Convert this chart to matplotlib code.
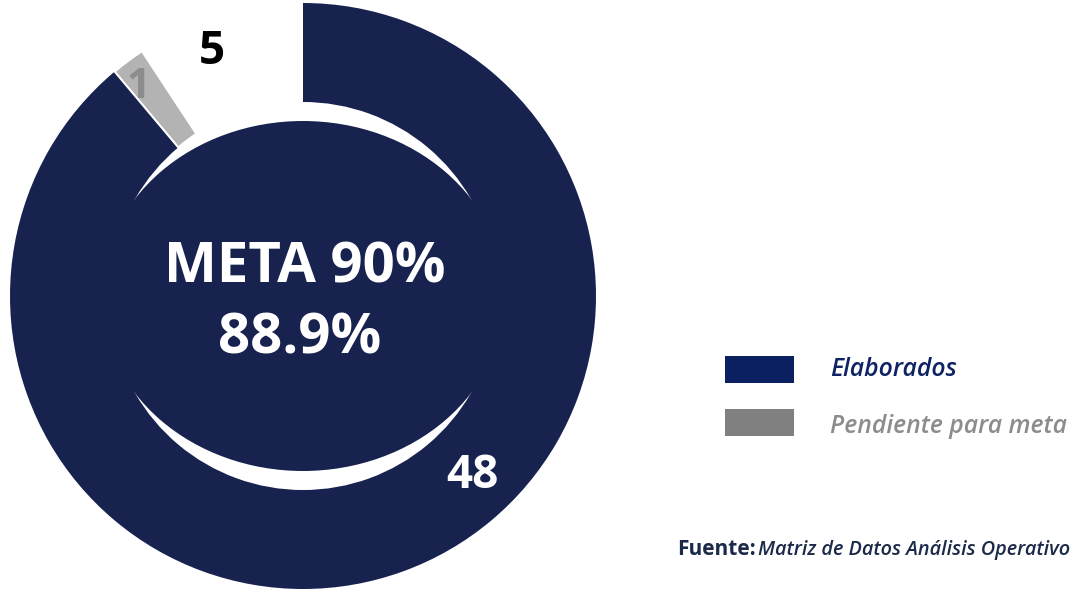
import matplotlib
matplotlib.use("Agg")
import matplotlib.pyplot as plt
from matplotlib.patches import Ellipse, Rectangle

plt.rcParams['font.family'] = ['Open Sans', 'DejaVu Sans']

# ---- data ----
categories = ["Elaborados", "Pendiente para meta", "Restante"]
values = [48, 1, 5]
meta_label = "META 90%"
source_bold = "Fuente:"
source_text = "Matriz de Datos Análisis Operativo"

navy = "#17224f"
pie_gray = "#b3b3b3"
legend_navy = "#0a2060"
legend_gray = "#808080"

W, H = 1073, 589
fig = plt.figure(figsize=(W / 100, H / 100), dpi=100)

# pie axes: centre (303, 296) px, radius 293 px
cx, cy, R = 303, 296, 293
ax = fig.add_axes([(cx - R) / W, (H - cy - R) / H, 2 * R / W, 2 * R / H])

ring_w = 1 - 194 / 293
wedges, _ = ax.pie(values, colors=[navy, pie_gray, "white"], startangle=90,
                   counterclock=False, radius=1,
                   wedgeprops=dict(width=ring_w, linewidth=0))
wedges[1].set_edgecolor("white")
wedges[1].set_linewidth(1.5)
ax.set_xlim(-1, 1)
ax.set_ylim(-1, 1)
ax.set_aspect('auto')
ax.axis('off')

# inner filled shape leaving white crescents top and bottom
ax.add_patch(Ellipse((0, 0), 2 * 202 / R, 2 * 175 / R, facecolor=navy,
                     edgecolor='none', zorder=3))

total = sum(values)
pct = values[0] / total * 100

ax.text(0.007, 0.096, meta_label, color="white", fontsize=40.5, fontweight='bold',
        ha='center', va='center', zorder=5)
ax.text(-0.01, -0.147, f"{pct:.1f}%", color="white", fontsize=40.5, fontweight='bold',
        ha='center', va='center', zorder=5)

ax.text(0.577, -0.611, str(values[0]), color="white", fontsize=33, fontweight='bold',
        ha='center', va='center', zorder=5)
ax.text(-0.31, 0.833, str(values[2]), color="black", fontsize=33, fontweight='bold',
        ha='center', va='center', zorder=5)
t1 = ax.text(-0.56, 0.71, str(values[1]), color="#8c8c8c", fontsize=30, fontweight='bold',
             ha='center', va='center', zorder=5)
t1.set_clip_path(wedges[1])

# ---- legend ----
leg_colors = [legend_navy, legend_gray]
leg_text_colors = ["#0f2263", "#8c8c8c"]
box_tops = [356, 409]
baselines = [376, 433]
for i in range(2):
    fig.patches.append(Rectangle((725 / W, (H - box_tops[i] - 27) / H), 69 / W, 27 / H,
                                 transform=fig.transFigure, facecolor=leg_colors[i],
                                 edgecolor='none'))
    fig.text(830 / W, (H - baselines[i]) / H, categories[i], color=leg_text_colors[i],
             fontsize=17.8, fontstyle='italic', fontweight='semibold',
             ha='left', va='baseline')

# ---- source ----
fig.text(677 / W, (H - 555) / H, source_bold, color="#1c2a4a", fontsize=15,
         fontweight='bold', ha='left', va='baseline')
fig.text(758 / W, (H - 555) / H, source_text, color="#1c2a4a", fontsize=14.3,
         fontstyle='italic', fontweight='semibold', ha='left', va='baseline')

fig.savefig("out.png", dpi=100, facecolor="white")
